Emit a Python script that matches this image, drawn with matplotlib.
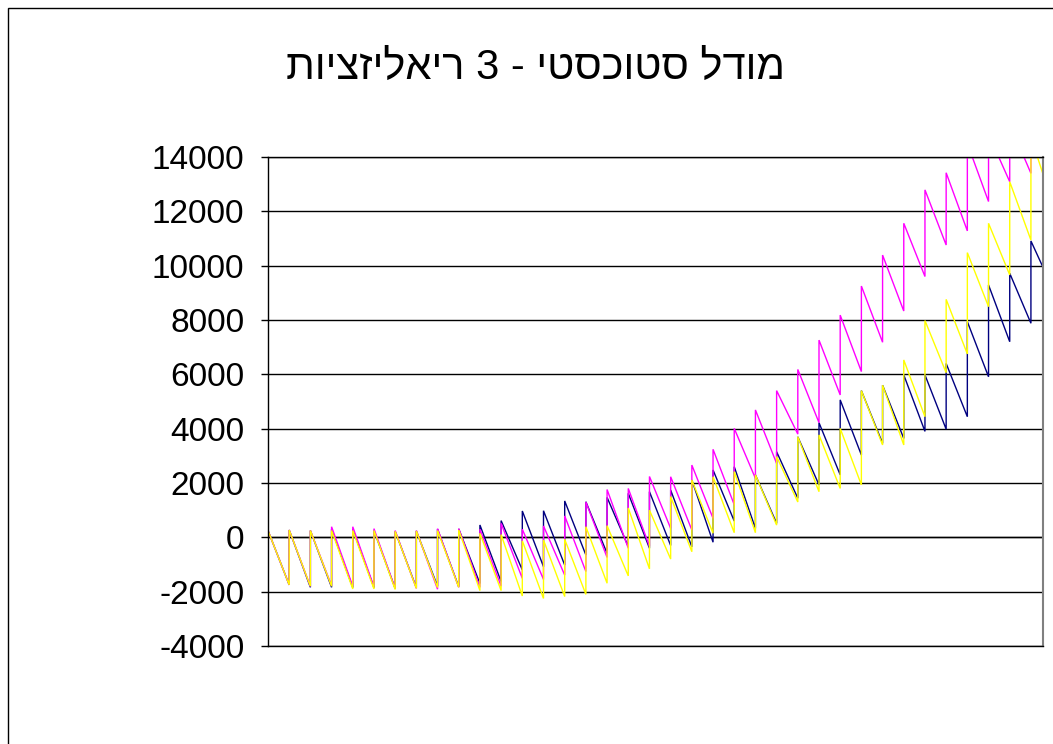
import matplotlib
matplotlib.use("Agg")
import matplotlib.pyplot as plt
from matplotlib.patches import Rectangle

title = "מודל סטוכסטי - 3 ריאליזציות"

yticks = [-4000, -2000, 0, 2000, 4000, 6000, 8000, 10000, 12000, 14000]

# cycle-start peaks (37 cycles) and cycle-end troughs (36 full cycles), plus the final sample
navy_peaks = [250, 270, 250, 300, 300, 250, 220, 235, 300, 310, 455, 615, 970, 980, 1340, 1310,
              1470, 1620, 1680, 1740, 2110, 2480, 2600, 2300, 3150, 3700, 4220, 5060, 5400, 5600,
              5980, 5980, 6400, 7940, 9290, 9720, 10910]
navy_troughs = [-1750, -1840, -1840, -1850, -1850, -1880, -1850, -1800, -1820, -1700, -1630, -1200,
                -1080, -1020, -650, -590, -340, -400, -300, -350, -180, 600, 330, 515, 1440, 1930,
                2300, 3030, 3460, 3640, 3900, 3980, 4440, 5910, 7200, 7880]
navy_end = 9940

magenta_peaks = [250, 270, 250, 390, 390, 320, 250, 250, 320, 320, 300, 515, 300, 420, 790, 1300,
                 1760, 1800, 2240, 2230, 2660, 3240, 4010, 4690, 5400, 6180, 7260, 8180, 9250,
                 10390, 11560, 12790, 13420, 14500, 14840, 15220, 16000]
magenta_troughs = [-1750, -1800, -1780, -1800, -1820, -1880, -1880, -1910, -1840, -1840, -1800,
                   -1510, -1550, -1390, -1260, -740, -400, -330, 330, 270, 700, 1200, 2170, 2720,
                   3800, 4220, 5240, 6100, 7180, 8330, 9600, 10760, 11280, 12360, 13090, 13400]
magenta_end = 14900

yellow_peaks = [250, 270, 250, 250, 250, 250, 220, 235, 250, 270, 150, 100, -130, -100, -70, 390,
                430, 1080, 1000, 1500, 2110, 2230, 2420, 2300, 2970, 3700, 3770, 4010, 5400, 5600,
                6530, 7980, 8760, 10480, 11560, 13090, 14735]
yellow_troughs = [-1750, -1800, -1800, -1900, -1900, -1920, -1880, -1850, -1840, -1960, -1960,
                  -2160, -2250, -2180, -2100, -1690, -1420, -1160, -800, -530, 150, 170, 170, 450,
                  1300, 1680, 1800, 1930, 3400, 3400, 4440, 6060, 6750, 8490, 9660, 10940]
yellow_end = 13370

last_sample_time = 36.57  # the series stops part-way through the last cycle


def build(peaks, troughs, end):
    xs, ys = [], []
    for k, p in enumerate(peaks):
        xs.append(k)
        ys.append(p)
        if k < len(troughs):
            xs.append(k + 1)
            ys.append(troughs[k])
    xs.append(last_sample_time)
    ys.append(end)
    return xs, ys


W, H = 1053, 744
fig = plt.figure(figsize=(W / 100, H / 100), dpi=100)
fig.patch.set_facecolor("white")

# outer chart-area border (extends past right and bottom edge)
fig.patches.append(Rectangle((8 / W, -0.1), 1.2, (H - 8) / H + 0.1, transform=fig.transFigure,
                             fill=False, edgecolor="black", linewidth=1.0))

ax = fig.add_axes([268 / W, (H - 646) / H, 775 / W, 489 / H])
ax.set_facecolor("white")

series = [
    (navy_peaks, navy_troughs, navy_end, "#000080"),
    (magenta_peaks, magenta_troughs, magenta_end, "#FF00FF"),
    (yellow_peaks, yellow_troughs, yellow_end, "#FFFF00"),
]
for peaks, troughs, end, col in series:
    xs, ys = build(peaks, troughs, end)
    ax.plot(xs, ys, color=col, linewidth=1.0, solid_joinstyle="miter")

ax.set_xlim(0, last_sample_time)
ax.set_ylim(-4000, 14000)
ax.set_yticks(yticks)
ax.set_yticklabels([str(v) for v in yticks], fontfamily="Liberation Sans", fontsize=24)
ax.set_xticks([])
ax.grid(axis="y", color="black", linewidth=1.0)
ax.set_axisbelow(True)
ax.axhline(0, color="black", linewidth=1.0, zorder=0.5)
ax.tick_params(axis="y", length=5, width=1, pad=12, color="black")
for side in ["left", "bottom", "top"]:
    ax.spines[side].set_color("black")
    ax.spines[side].set_linewidth(1.0)
ax.spines["right"].set_color("#808080")
ax.spines["right"].set_linewidth(1.5)

fig.text(535 / W, 1 - 68 / H, title[::-1], ha="center", va="center",
         fontfamily="Liberation Sans", fontsize=30)

fig.savefig("out.png", dpi=100, facecolor="white")
